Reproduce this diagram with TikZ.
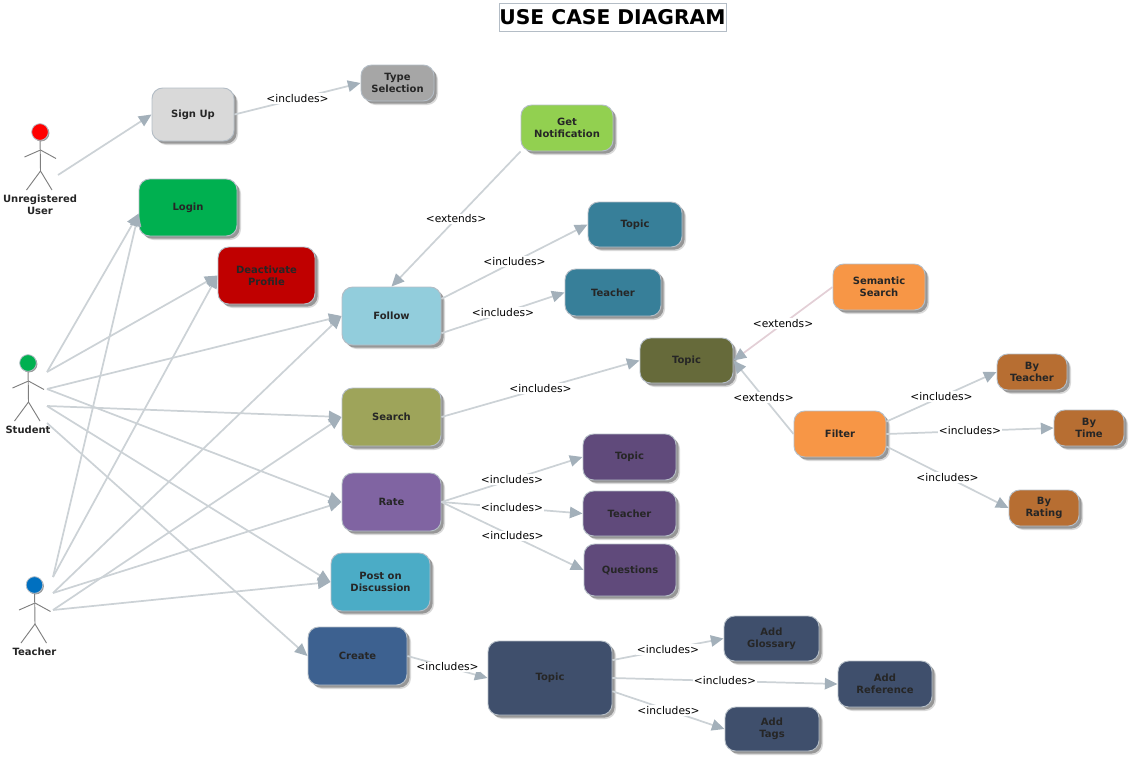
\documentclass[tikz,border=0pt]{standalone}
\usepackage{fontspec}
\setmainfont{DejaVu Sans}
\usetikzlibrary{arrows.meta,shadows}

\definecolor{rimgray}{HTML}{B4BDC6}
\definecolor{linegray}{HTML}{CCD2D6}
\definecolor{tipgray}{HTML}{A3B0BA}
\definecolor{linepink}{HTML}{E3CFD6}
\definecolor{limbgray}{HTML}{7F7F7F}
\definecolor{ucgreen}{HTML}{00B050}
\definecolor{ucblue}{HTML}{0070C0}
\definecolor{uclight}{HTML}{D9D9D9}
\definecolor{ucgray}{HTML}{A6A6A6}
\definecolor{ucred}{HTML}{C00000}
\definecolor{uclime}{HTML}{92D050}
\definecolor{ucsky}{HTML}{92CDDC}
\definecolor{ucteal}{HTML}{377F99}
\definecolor{ucsand}{HTML}{9EA45A}
\definecolor{ucolive}{HTML}{666A3A}
\definecolor{ucorange}{HTML}{F79646}
\definecolor{ucbrown}{HTML}{B76E32}
\definecolor{ucviolet}{HTML}{8064A2}
\definecolor{ucplum}{HTML}{604A7B}
\definecolor{uccyan}{HTML}{4BACC6}
\definecolor{ucsteel}{HTML}{3D6190}
\definecolor{ucnavy}{HTML}{3F4F6C}

\tikzset{
	usecase/.style={draw=rimgray, line width=0.7pt, rounded corners=8pt, align=center,
		inner sep=0pt, text=black!85, font=\bfseries\fontsize{7.5}{9}\selectfont,
		general shadow={shadow xshift=3pt, shadow yshift=-3pt, opacity=0.15, fill=black},
		general shadow={shadow xshift=2pt, shadow yshift=-2pt, opacity=0.3, fill=black}},
	link/.style={draw=linegray, line width=1.3pt,
		-{Triangle[length=9.5pt, width=8.5pt, color=tipgray]}},
	tag/.style={fill=white, inner sep=1pt, font=\fontsize{8}{9}\selectfont},
	limb/.style={draw=limbgray, line width=0.7pt},
	actorname/.style={align=center, inner sep=0pt, text=black!85,
		font=\bfseries\fontsize{7.5}{9}\selectfont},
}

\begin{document}
\begin{tikzpicture}[x=0.75pt, y=-0.75pt]

% Fixes the page to the size of the reference
\useasboundingbox (0,0) rectangle (1134,761);

\node[draw=rimgray, line width=0.5pt, minimum width=170pt, minimum height=21pt, inner sep=0pt,
	font=\bfseries\fontsize{15.2}{16}\selectfont]
	(title) at (612.5,17.5) {USE CASE DIAGRAM};

% Actors
\newcommand{\ucactor}[6]{
	\node[circle, draw=rimgray, line width=0.6pt, fill=#4, minimum size=12.5pt, inner sep=0pt,
		drop shadow={shadow xshift=0.8pt, shadow yshift=-0.8pt, opacity=0.4, fill=black}]
		(#1head) at (#2,#3) {};
	\coordinate (#1neck)  at (#2+0.5,#3+18);
	\coordinate (#1hip)   at (#2+0.5,#3+39);
	\draw[limb] (#1head) -- (#1hip);
	\draw[limb] (#2-15.5,#3+25) -- (#1neck) -- (#2+16,#3+26.5);
	\draw[limb] (#2-13.5,#3+58) -- (#1hip) -- (#2+12,#3+58);
	\node[actorname, anchor=north] (#1name) at (#2,#6) {#5};
}
\ucactor {guest}   {40}   {132} {red}     {Unregistered\\User} {194.5}
\ucactor {student} {28}   {363} {ucgreen} {Student}            {426}
\ucactor {teacher} {34.5} {585} {ucblue}  {Teacher}            {648}

% Where the lines leave the actors
\coordinate (guesta)   at (58,175);
\coordinate (studenta) at (47,372);
\coordinate (studentb) at (47,389);
\coordinate (studentc) at (47,406);
\coordinate (studentd) at (47,423);
\coordinate (teachera) at (53,577);
\coordinate (teacherb) at (53,593);
\coordinate (teacherc) at (53,610);

% Boxes
\newcommand{\ucbox}[6]{
	\node[usecase, fill=#5, minimum width=#3*0.75pt, minimum height=#4*0.75pt]
		(#1) at (#2) {#6};
}
\ucbox {signup}   {193,114.5}  {82}  {53} {uclight}  {Sign Up}
\ucbox {kind}     {397.5,83}   {73}  {36} {ucgray}   {Type\\Selection}
\ucbox {login}    {188,207.5}  {98}  {57} {ucgreen}  {Login}
\ucbox {leave}    {266.5,275.5}{97}  {57} {ucred}    {Deactivate\\Profile}
\ucbox {notify}   {567,128}    {92}  {46} {uclime}   {Get\\Notification}
\ucbox {follow}   {391.5,316}  {99}  {58} {ucsky}    {Follow}
\ucbox {ftopic}   {635,224.5}  {94}  {45} {ucteal}   {Topic}
\ucbox {fteacher} {613,292.5}  {96}  {47} {ucteal}   {Teacher}
\ucbox {search}   {391.5,417}  {99}  {58} {ucsand}   {Search}
\ucbox {stopic}   {686.5,360.5}{93}  {45} {ucolive}  {Topic}
\ucbox {semantic} {879,287}    {92}  {46} {ucorange} {Semantic\\Search}
\ucbox {filter}   {840,434}    {92}  {46} {ucorange} {Filter}
\ucbox {byteacher}{1032,372}   {70}  {36} {ucbrown}  {By\\Teacher}
\ucbox {bytime}   {1089,428}   {70}  {36} {ucbrown}  {By\\Time}
\ucbox {byrating} {1044,508}   {70}  {36} {ucbrown}  {By\\Rating}
\ucbox {rate}     {391.5,502}  {99}  {58} {ucviolet} {Rate}
\ucbox {rtopic}   {629.5,457}  {93}  {46} {ucplum}   {Topic}
\ucbox {rteacher} {629.5,513.5}{93}  {45} {ucplum}   {Teacher}
\ucbox {rquestion}{630,570}    {92}  {52} {ucplum}   {Questions}
\ucbox {post}     {380.5,582}  {99}  {58} {uccyan}   {Post on\\Discussion}
\ucbox {create}   {357.5,656}  {99}  {58} {ucsteel}  {Create}
\ucbox {ctopic}   {550,678}    {124} {74} {ucnavy}   {Topic}
\ucbox {glossary} {771.5,638.5}{95}  {45} {ucnavy}   {Add\\Glossary}
\ucbox {reference}{885,684}    {94}  {46} {ucnavy}   {Add\\Reference}
\ucbox {tags}     {772,729}    {94}  {44} {ucnavy}   {Add\\Tags}

% Arrows
\newcommand{\arr}[3]{
	\draw[link] (#1) -- node[tag] {#3} (#2);
}
\arr {signup.east}   {kind.west}       {<includes>}
\arr {notify.south west} {follow.north}{<extends>}
\arr {follow.19}     {ftopic.west}     {<includes>}
\arr {follow.-19}    {fteacher.west}   {<includes>}
\arr {search.east}   {stopic.west}     {<includes>}
\arr {filter.west}   {stopic.east}     {<extends>}
\arr {filter.15}     {byteacher.west}  {<includes>}
\arr {filter.east}   {bytime.west}     {<includes>}
\arr {filter.-15}    {byrating.west}   {<includes>}
\arr {rate.east}     {rtopic.west}     {<includes>}
\arr {rate.east}     {rteacher.west}   {<includes>}
\arr {rate.east}     {rquestion.west}  {<includes>}
\arr {create.east}   {ctopic.west}     {<includes>}
\arr {ctopic.16}     {glossary.west}   {<includes>}
\arr {ctopic.east}   {reference.west}  {<includes>}
\arr {ctopic.-12}    {tags.west}       {<includes>}
\draw[link, draw=linepink] (semantic.west) -- node[tag] {<extends>} (stopic.east);

\draw[link] (guesta) -- (signup.west);
\draw[link] (studenta) -- (login.187);
\draw[link] (studenta) -- (leave.west);
\draw[link] (studentb) -- (follow.west);
\draw[link] (studentb) -- (rate.west);
\draw[link] (studentc) -- (search.west);
\draw[link] (studentc) -- (post.west);
\draw[link] (studentd) -- (create.west);
\draw[link] (teachera) -- (login.187);
\draw[link] (teachera) -- (leave.west);
\draw[link] (teacherb) -- (follow.west);
\draw[link] (teacherb) -- (rate.west);
\draw[link] (teacherc) -- (search.west);
\draw[link] (teacherc) -- (post.west);
\end{tikzpicture}
\end{document}
